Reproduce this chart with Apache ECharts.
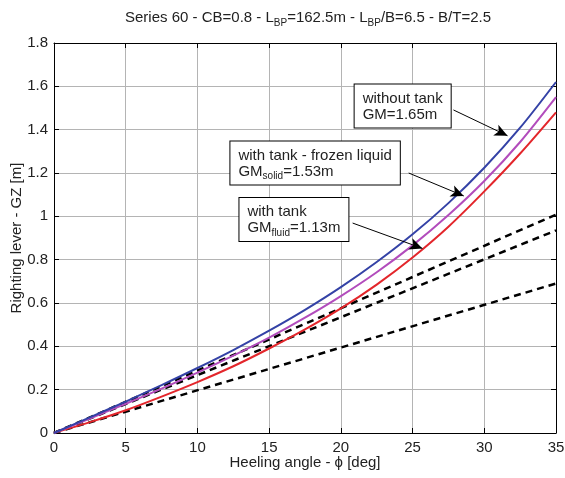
<!DOCTYPE html>
<html lang="en">
<head>
    <meta charset="utf-8">
    <title>Series 60 - GZ curves</title>
    <script src="https://cdn.jsdelivr.net/npm/echarts@6/dist/echarts.min.js"></script>
    <style>
        html, body { margin: 0; padding: 0; background: #fff; }
        #main { width: 565px; height: 478px; }
    </style>
</head>
<body>
<div id="main"></div>

<script type="text/javascript">

    // heeling angle [deg]
    var angles = [0, 2.5, 5, 7.5, 10, 12.5, 15, 17.5, 20, 22.5, 25, 27.5, 30, 32.5, 35];

    // righting lever GZ [m]
    var gzNoTank = [0, 0.072, 0.145, 0.221, 0.300, 0.383, 0.472, 0.568, 0.673, 0.789, 0.917, 1.061, 1.224, 1.409, 1.620];
    var gzFrozen = [0, 0.067, 0.135, 0.205, 0.279, 0.357, 0.440, 0.532, 0.632, 0.742, 0.866, 1.006, 1.163, 1.343, 1.550];
    var gzFluid  = [0, 0.050, 0.105, 0.168, 0.235, 0.308, 0.390, 0.478, 0.575, 0.685, 0.810, 0.952, 1.115, 1.290, 1.480];

    // initial stability lines GM*phi (end points)
    var lineAngles = [0, 35];
    var gmNoTank = [0, 1.008];
    var gmFrozen = [0, 0.935];
    var gmFluid  = [0, 0.690];

    var xTicks = { min: 0, max: 35, step: 5 };
    var yTicks = { min: 0, max: 1.8, step: 0.2 };

    var FONT = 'Liberation Sans, Arial, Helvetica, sans-serif';
    var FS = 15;

    function pairs(xs, ys) {
        return xs.map(function (x, i) { return [x, ys[i]]; });
    }

    // text boxes + arrows (data coordinates)
    var notes = [
        { text: 'without tank\nGM=1.65m', box: [20.96, 1.609], from: [27.85, 1.491], to: [31.62, 1.372] },
        { text: 'with tank - frozen liquid\nGM{sub|solid}=1.53m', box: [12.30, 1.345], from: [24.73, 1.200], to: [28.57, 1.094] },
        { text: 'with tank\nGM{sub|fluid}=1.13m', box: [12.93, 1.085], from: [20.82, 0.969], to: [25.69, 0.852] }
    ];

    var myChart = echarts.init(document.getElementById('main'));

    var axisCommon = {
        type: 'value',
        axisLine: { show: true, onZero: false, lineStyle: { color: '#000', width: 1 } },
        axisTick: { show: true, inside: true, length: 5, lineStyle: { color: '#000' } }
    };

    function mainX() {
        return Object.assign({}, axisCommon, {
            min: xTicks.min, max: xTicks.max, interval: xTicks.step,
            position: 'bottom',
            axisLabel: { color: '#222', fontSize: FS, fontFamily: FONT, margin: 7 },
            splitLine: { show: true, lineStyle: { color: '#b4b4b4', width: 1 } },
            name: 'Heeling angle - \u03d5 [deg]',
            nameLocation: 'middle',
            nameGap: 22,
            nameMoveOverlap: false,
            nameTextStyle: { color: '#222', fontSize: FS, fontFamily: FONT }
        });
    }

    function mainY() {
        return Object.assign({}, axisCommon, {
            min: yTicks.min, max: yTicks.max, interval: yTicks.step,
            position: 'left',
            axisLabel: {
                color: '#222', fontSize: FS, fontFamily: FONT, margin: 6,
                formatter: function (v) { return String(parseFloat(v.toFixed(1))); }
            },
            splitLine: { show: true, lineStyle: { color: '#b4b4b4', width: 1 } },
            name: 'Righting lever - GZ [m]',
            nameLocation: 'middle',
            nameGap: 30,
            nameMoveOverlap: false,
            nameRotate: 90,
            nameTextStyle: { color: '#222', fontSize: FS, fontFamily: FONT }
        });
    }

    function boxAxisX() {
        return Object.assign({}, axisCommon, {
            min: xTicks.min, max: xTicks.max, interval: xTicks.step,
            position: 'top', axisLabel: { show: false }, splitLine: { show: false }
        });
    }

    function boxAxisY() {
        return Object.assign({}, axisCommon, {
            min: yTicks.min, max: yTicks.max, interval: yTicks.step,
            position: 'right', axisLabel: { show: false }, splitLine: { show: false }
        });
    }

    function curve(name, xs, ys, color, dashed) {
        return {
            name: name,
            type: 'line',
            data: pairs(xs, ys),
            smooth: dashed ? false : 0.3,
            showSymbol: false,
            symbol: 'none',
            lineStyle: dashed
                ? { color: '#000', width: 2.5, type: [7, 5] }
                : { color: color, width: 2 },
            z: dashed ? 3 : 4
        };
    }

    var arrowSeries = {
        name: 'arrows',
        type: 'line',
        data: [],
        markLine: {
            silent: true,
            symbol: ['none', 'arrow'],
            symbolSize: [9, 13],
            label: { show: false },
            lineStyle: { color: '#000', width: 1, type: 'solid' },
            data: notes.map(function (n) {
                return [{ coord: n.from }, { coord: n.to }];
            })
        },
        z: 6
    };

    var subRich = {
        sub: { fontSize: 10, fontFamily: FONT, color: '#222', padding: [10, 0, 0, 0] }
    };

    myChart.setOption({
        animation: false,
        title: {
            text: 'Series 60 - CB=0.8 - L{sub|BP}=162.5m - L{sub|BP}/B=6.5 - B/T=2.5',
            left: 303,
            textAlign: 'center',
            top: 3,
            textStyle: {
                color: '#222', fontSize: FS, fontWeight: 'normal', fontFamily: FONT,
                rich: subRich
            }
        },
        grid: { left: 54, right: 9, top: 43, bottom: 45, containLabel: false, outerBoundsMode: 'none' },
        xAxis: [mainX(), boxAxisX()],
        yAxis: [mainY(), boxAxisY()],
        series: [
            curve('gm no tank', lineAngles, gmNoTank, null, true),
            curve('gm frozen', lineAngles, gmFrozen, null, true),
            curve('gm fluid', lineAngles, gmFluid, null, true),
            curve('fluid', angles, gzFluid, '#e3262b', false),
            curve('frozen', angles, gzFrozen, '#b24cbc', false),
            curve('without tank', angles, gzNoTank, '#3442a6', false),
            arrowSeries
        ]
    });

    // place the text boxes through the grid's scales
    var boxes = notes.map(function (n) {
        var p = myChart.convertToPixel({ gridIndex: 0 }, n.box);
        return {
            type: 'text',
            x: p[0],
            y: p[1],
            z: 10,
            style: {
                text: n.text,
                fill: '#222',
                font: FS + 'px ' + FONT,
                lineHeight: 16,
                backgroundColor: '#fff',
                borderColor: '#000',
                borderWidth: 1,
                padding: [6, 8, 5, 8],
                rich: subRich
            }
        };
    });

    myChart.setOption({ graphic: boxes });

</script>
</body>
</html>
